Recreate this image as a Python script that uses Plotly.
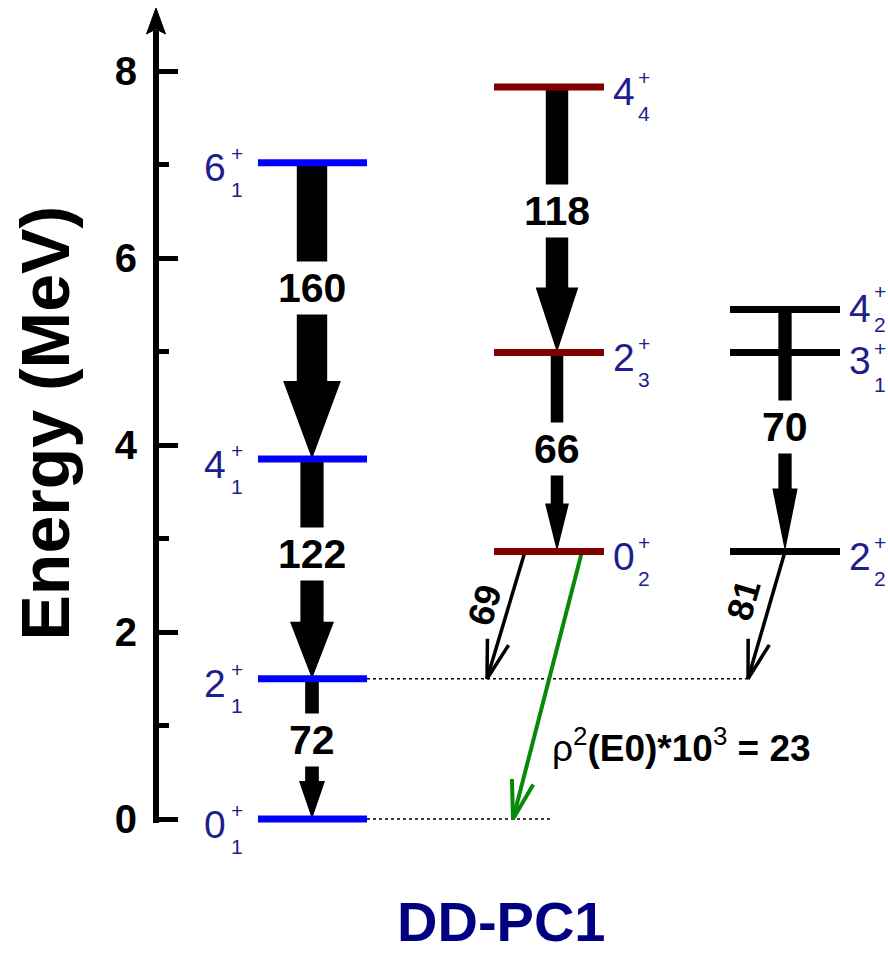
import math
import plotly.graph_objects as go

# ---------------- data ----------------
# Ground-state band
gsb_spin = ["0", "2", "4", "6"]
gsb_index = ["1", "1", "1", "1"]
gsb_energy = [0.00, 1.50, 3.85, 7.02]
gsb_be2 = [72, 122, 160]            # 2->0, 4->2, 6->4

# Band built on 0+_2
band2_spin = ["0", "2", "4"]
band2_index = ["2", "3", "4"]
band2_energy = [2.86, 4.99, 7.83]
band2_be2 = [66, 118]               # 2->0, 4->2

# Band built on 2+_2
band3_spin = ["2", "3", "4"]
band3_index = ["2", "1", "2"]
band3_energy = [2.86, 4.99, 5.45]
band3_be2 = [70]                    # 4_2 -> 2_2

# Inter-band transitions to 2+_1
be2_02_to_21 = 69
be2_22_to_21 = 81
rho2_e0 = 23                        # rho^2(E0) x 10^3, 0+_2 -> 0+_1

y_ticks = [0, 2, 4, 6, 8]
y_minor = [1, 3, 5, 7]
model_name = "DD-PC1"

# ---------------- layout geometry (pixels) ----------------
W, H = 888, 954
M_L, M_R, M_T, M_B = 159, 0, 30, 131
PX_PER_MEV = 93.5
PLOT_W = W - M_L - M_R
PLOT_H = H - M_T - M_B
BOTTOM_PX = H - M_B
Y0_PX = 819                         # pixel row of E = 0
Y_MIN = -(BOTTOM_PX - Y0_PX) / PX_PER_MEV
Y_MAX = (Y0_PX - M_T) / PX_PER_MEV

def xd(px):
    return px - M_L

def yd(py):
    return (Y0_PX - py) / PX_PER_MEV

def ypx(e):
    return Y0_PX - e * PX_PER_MEV

def xp(px):
    return (px - M_L) / PLOT_W

def yp(py):
    return (BOTTOM_PX - py) / PLOT_H

# column extents (pixels) and arrow centres
COL = {
    "gsb": dict(left=258, right=367, arrow=312, color="#0000ff"),
    "b2": dict(left=494, right=604, arrow=557, color="#800000"),
    "b3": dict(left=730, right=840, arrow=785, color="#000000"),
}
LABEL_COLOR = "#1e1e8c"
FONT = "Liberation Sans, Arial, sans-serif"

fig = go.Figure()
annotations = []


def thick_arrow(xc, e_from, e_to, value, head_len, label_e):
    w = 0.19 * value
    hw = 0.95 * w
    top = ypx(e_from)
    tip = ypx(e_to)
    hs = tip - head_len
    pts = [(xc - w / 2, top), (xc + w / 2, top), (xc + w / 2, hs), (xc + hw, hs),
           (xc, tip), (xc - hw, hs), (xc - w / 2, hs), (xc - w / 2, top)]
    fig.add_trace(go.Scatter(
        x=[xd(p[0]) for p in pts], y=[yd(p[1]) for p in pts],
        mode="lines", fill="toself", fillcolor="black",
        line=dict(color="black", width=0), hoverinfo="skip", showlegend=False))
    annotations.append(dict(
        x=xd(xc), y=label_e, xref="x", yref="y", text=str(value), showarrow=False,
        font=dict(family=FONT, size=41, color="black", weight="bold"),
        bgcolor="white", xanchor="center", yanchor="middle", borderpad=3))


def thin_arrow(x0, e0, x1, e1, color, width, head_len=40, ang=16):
    p0 = (x0, ypx(e0))
    p1 = (x1, ypx(e1))
    dx, dy = p1[0] - p0[0], p1[1] - p0[1]
    n = math.hypot(dx, dy)
    ux, uy = dx / n, dy / n
    wings = []
    for s in (1, -1):
        a = math.radians(ang) * s
        bx = -(ux * math.cos(a) - uy * math.sin(a))
        by = -(ux * math.sin(a) + uy * math.cos(a))
        wings.append((p1[0] + head_len * bx, p1[1] + head_len * by))
    xs = [p0[0], p1[0], None, wings[0][0], p1[0], wings[1][0]]
    ys = [p0[1], p1[1], None, wings[0][1], p1[1], wings[1][1]]
    fig.add_trace(go.Scatter(
        x=[None if v is None else xd(v) for v in xs],
        y=[None if v is None else yd(v) for v in ys],
        mode="lines", line=dict(color=color, width=width),
        hoverinfo="skip", showlegend=False))


# dotted guide lines at 2+_1 and 0+_1
fig.add_trace(go.Scatter(
    x=[xd(COL["gsb"]["right"]), xd(748)], y=[gsb_energy[1], gsb_energy[1]],
    mode="lines", line=dict(color="black", width=1.3, dash="3px,3px"),
    hoverinfo="skip", showlegend=False))
fig.add_trace(go.Scatter(
    x=[xd(COL["gsb"]["right"]), xd(550)], y=[gsb_energy[0], gsb_energy[0]],
    mode="lines", line=dict(color="black", width=1.3, dash="3px,3px"),
    hoverinfo="skip", showlegend=False))

# E2 cascades (arrow width proportional to B(E2))
gsb_head = [38, 57, 78]
gsb_label_e = [0.84, 2.83, 5.68]
for i, b in enumerate(gsb_be2):
    thick_arrow(COL["gsb"]["arrow"], gsb_energy[i + 1], gsb_energy[i], b,
                gsb_head[i], gsb_label_e[i])

b2_head = [48, 65]
b2_label_e = [3.96, 6.50]
for i, b in enumerate(band2_be2):
    thick_arrow(COL["b2"]["arrow"], band2_energy[i + 1], band2_energy[i], b,
                b2_head[i], b2_label_e[i])

thick_arrow(COL["b3"]["arrow"], band3_energy[2], band3_energy[0], band3_be2[0], 63, 4.19)

# inter-band E2 and E0 transitions
thin_arrow(525, band2_energy[0], 487, gsb_energy[1], "black", 3.5)
thin_arrow(785, band3_energy[0], 748, gsb_energy[1], "black", 3.5)
thin_arrow(582, band2_energy[0], 513, gsb_energy[0], "#078a07", 4)

for txt, cx, cy in [(be2_02_to_21, 484, 605), (be2_22_to_21, 743, 600)]:
    annotations.append(dict(
        x=xd(cx), y=yd(cy), xref="x", yref="y", text=str(txt), showarrow=False,
        textangle=-74, font=dict(family=FONT, size=36, color="black", weight="bold"),
        xanchor="center", yanchor="middle"))

annotations.append(dict(
    x=xd(550), y=yd(745), xref="x", yref="y", showarrow=False,
    text=f"ρ<sup>2</sup><b>(E0)*10</b><sup>3</sup><b> = {rho2_e0}</b>",
    font=dict(family=FONT, size=37, color="black"),
    xanchor="left", yanchor="middle"))

# vertical offsets (pixels, + = down) of spin / parity / index relative to a level
LBL_OFF = (5, -9, 27)
lbl_override = {("b3", 2): (-1, -18, 15), ("b3", 1): (8, -4, 32)}

# levels and level labels
def add_band(col, spins, idxs, energies, side):
    c = COL[col]
    for j, (s, k, e) in enumerate(zip(spins, idxs, energies)):
        fig.add_trace(go.Scatter(
            x=[xd(c["left"]), xd(c["right"])], y=[e, e], mode="lines",
            line=dict(color=c["color"], width=7), hoverinfo="skip", showlegend=False))
        if side == "left":
            main_x, main_anchor = c["left"] - 30, "right"
            ss_x = c["left"] - 28
        else:
            main_x, main_anchor = c["right"] + 7, "left"
            ss_x = c["right"] + 33
        d_main, d_sup, d_sub = lbl_override.get((col, j), LBL_OFF)
        ly = ypx(e)
        annotations.append(dict(
            x=xp(main_x), y=yp(ly + d_main), xref="paper", yref="paper", text=s,
            showarrow=False, xanchor=main_anchor, yanchor="middle",
            font=dict(family=FONT, size=39, color=LABEL_COLOR)))
        annotations.append(dict(
            x=xp(ss_x), y=yp(ly + d_sup), xref="paper", yref="paper", text="+",
            showarrow=False, xanchor="left", yanchor="middle", borderpad=0,
            font=dict(family=FONT, size=21, color=LABEL_COLOR)))
        annotations.append(dict(
            x=xp(ss_x), y=yp(ly + d_sub), xref="paper", yref="paper", text=k,
            showarrow=False, xanchor="left", yanchor="middle", borderpad=0,
            font=dict(family=FONT, size=21, color=LABEL_COLOR)))


add_band("gsb", gsb_spin, gsb_index, gsb_energy, "left")
add_band("b2", band2_spin, band2_index, band2_energy, "right")
add_band("b3", band3_spin, band3_index, band3_energy, "right")

# axis title and model name
annotations.append(dict(
    x=xp(44.5), y=yp(423), xref="paper", yref="paper", text="Energy (MeV)",
    showarrow=False, textangle=-90,
    font=dict(family=FONT, size=68, color="black", weight="bold"),
    xanchor="center", yanchor="middle"))
annotations.append(dict(
    x=xp(501), y=yp(921), xref="paper", yref="paper", text=model_name, showarrow=False,
    font=dict(family=FONT, size=56, color="#000080", weight="bold"),
    xanchor="center", yanchor="middle", borderpad=0))

# arrowhead at the top of the energy axis
tip = (xp(156), yp(8))
bl = (xp(146.5), yp(34))
br = (xp(165.5), yp(34))
mid = (xp(156), yp(29))
shapes = [dict(
    type="path", xref="paper", yref="paper",
    path=f"M{bl[0]},{bl[1]} L{tip[0]},{tip[1]} L{br[0]},{br[1]} L{mid[0]},{mid[1]} Z",
    fillcolor="black", line=dict(color="black", width=1))]

fig.update_layout(
    width=W, height=H, margin=dict(l=M_L, r=M_R, t=M_T, b=M_B),
    plot_bgcolor="white", paper_bgcolor="white",
    xaxis=dict(visible=False, range=[0, PLOT_W]),
    yaxis=dict(
        range=[Y_MIN, Y_MAX], showgrid=False, zeroline=False,
        showline=True, linecolor="black", linewidth=6,
        tickvals=y_ticks, ticktext=[str(v) for v in y_ticks],
        ticks="inside", ticklen=19, tickwidth=5, tickcolor="black",
        ticklabelstandoff=8,
        tickfont=dict(family=FONT, size=40, color="black", weight="bold"),
        minor=dict(tickvals=y_minor, ticks="inside", ticklen=10, tickwidth=5,
                   tickcolor="black", showgrid=False),
    ),
    annotations=annotations, shapes=shapes,
)

fig.write_html("out.html")
